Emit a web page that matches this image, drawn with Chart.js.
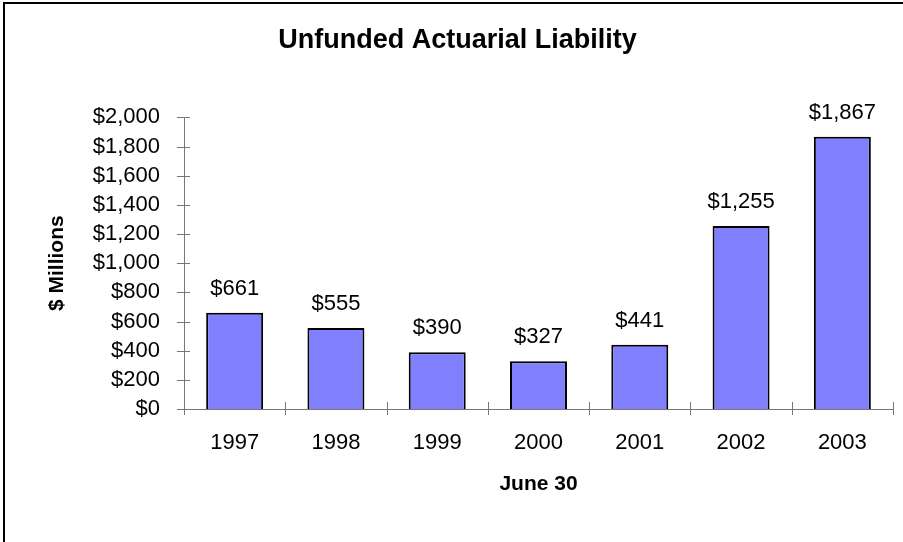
<!DOCTYPE html>
<html>
<head>
<meta charset="utf-8">
<script src="https://cdn.jsdelivr.net/npm/chart.js@4/dist/chart.umd.min.js"></script>
<style>
  body { margin: 0; background: #fff; }
  canvas { display: block; }
</style>
</head>
<body>
<canvas id="liabilityChart" width="903" height="542"></canvas>
<script>
// Data
const years = ["1997", "1998", "1999", "2000", "2001", "2002", "2003"];
const liability = [661, 555, 390, 327, 441, 1255, 1867];
const yTicks = [0, 200, 400, 600, 800, 1000, 1200, 1400, 1600, 1800, 2000];

const money = v => "$" + v.toLocaleString("en-US");

// value labels above bars, crossing tick marks, frame lines
const extras = {
  id: "extras",
  afterDraw(chart) {
    const ctx = chart.ctx;
    const x = chart.scales.x;
    const y = chart.scales.y;
    ctx.save();

    // tick marks that cross the axes
    ctx.strokeStyle = "#777";
    ctx.lineWidth = 1;
    ctx.beginPath();
    yTicks.forEach(t => {
      const py = Math.round(y.getPixelForValue(t)) + 0.5;
      ctx.moveTo(x.left - 7, py);
      ctx.lineTo(x.left + 6, py);
    });
    const half = (x.getPixelForValue(1) - x.getPixelForValue(0)) / 2;
    for (let i = 0; i <= years.length; i++) {
      const px = Math.round(x.getPixelForValue(i) - half) + 0.5;
      ctx.moveTo(px, y.bottom - 7);
      ctx.lineTo(px, y.bottom + 6);
    }
    ctx.stroke();

    // value labels
    ctx.fillStyle = "#000";
    ctx.font = "22px 'Liberation Sans', Arial, sans-serif";
    ctx.textAlign = "center";
    ctx.textBaseline = "alphabetic";
    chart.getDatasetMeta(0).data.forEach((bar, i) => {
      ctx.fillText(money(liability[i]), bar.x, bar.y - 18);
    });

    // frame (left and top edges only)
    ctx.strokeStyle = "#000";
    ctx.lineWidth = 2;
    ctx.beginPath();
    ctx.moveTo(4, 542);
    ctx.lineTo(4, 3);
    ctx.lineTo(903, 3);
    ctx.stroke();
    ctx.restore();
  }
};

Chart.defaults.color = "#000";
Chart.defaults.font.family = "'Liberation Sans', Arial, sans-serif";

new Chart(document.getElementById("liabilityChart"), {
  type: "bar",
  data: {
    labels: years,
    datasets: [{
      data: liability,
      backgroundColor: "#8080ff",
      borderColor: "#000",
      borderWidth: 2,
      barPercentage: 0.75,
      categoryPercentage: 0.75
    }]
  },
  options: {
    responsive: false,
    animation: false,
    layout: { padding: { left: 22, right: 10, top: 0, bottom: 0 } },
    plugins: {
      legend: { display: false },
      tooltip: { enabled: false },
      title: {
        display: true,
        text: "Unfunded Actuarial Liability",
        font: { size: 27, weight: "bold" },
        padding: { top: 24, bottom: 61 }
      }
    },
    scales: {
      x: {
        afterFit(scale) { scale.height = 133; },
        grid: { display: false, drawTicks: false },
        border: { display: true, color: "#777", width: 1 },
        ticks: { font: { size: 22 }, padding: 21, autoSkip: false, maxRotation: 0 },
        title: {
          display: true,
          text: "June 30",
          font: { size: 21, weight: "bold" },
          padding: { top: 0, bottom: 45 }
        }
      },
      y: {
        min: 0,
        max: 2000,
        afterFit(scale) { scale.width = 162; },
        afterBuildTicks(scale) { scale.ticks = yTicks.map(v => ({ value: v })); },
        grid: { display: false, drawTicks: false },
        border: { display: true, color: "#777", width: 1 },
        ticks: { font: { size: 22 }, padding: 24, autoSkip: false, callback: v => money(v) },
        title: {
          display: true,
          text: "$ Millions",
          font: { size: 21, weight: "bold" },
          padding: { top: 23, bottom: 0 }
        }
      }
    }
  },
  plugins: [extras]
});
</script>
</body>
</html>
